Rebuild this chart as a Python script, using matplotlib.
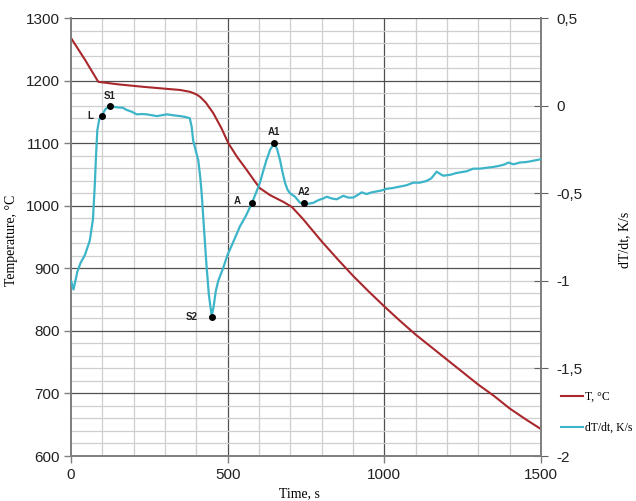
import numpy as np
import matplotlib
matplotlib.use("Agg")
import matplotlib.pyplot as plt
from matplotlib.lines import Line2D

# --- data ---
t_T = [0, 45, 87, 150, 231, 300, 348, 380, 400, 412, 430, 454, 480, 502, 530, 561, 585,
       603, 635, 678, 705, 740, 770, 800, 850, 900, 950, 1000, 1050, 1100, 1150, 1200, 1250,
       1300, 1350, 1400, 1450, 1500]
T_vals = [1268, 1233, 1198, 1194, 1190, 1187, 1185, 1182, 1178, 1174, 1165, 1148, 1124,
          1100, 1078, 1057, 1040, 1028, 1017, 1006, 998, 979, 961, 943, 915, 888, 863, 839,
          816, 794, 774, 754, 734, 714, 696, 676, 659, 643]

t_d = [0, 8, 20, 30, 45, 60, 70, 76, 80, 84, 90, 98, 110, 124, 146, 165, 178, 194, 210,
       226, 242, 258, 274, 290, 306, 325, 349, 365, 379, 385, 390, 400, 406, 412, 417, 424,
       432, 440, 449, 455, 462, 470, 485, 500, 515, 539, 558, 577, 590, 603, 614, 624, 636,
       649, 658, 667, 675, 683, 691, 699, 715, 731, 744, 758, 773, 789, 805, 816, 832, 848,
       869, 885, 901, 915, 928, 943, 960, 975, 990, 1007, 1028, 1050, 1070, 1092, 1113,
       1135, 1150, 1167, 1178, 1188, 1210, 1230, 1245, 1262, 1284, 1305, 1326, 1348, 1369,
       1385, 1396, 1412, 1433, 1454, 1475, 1500]
dTdt_vals = [-1.0, -1.05, -0.95, -0.9, -0.85, -0.77, -0.65, -0.45, -0.28, -0.14, -0.08,
             -0.058, -0.02, -0.002, -0.01, -0.012, -0.025, -0.035, -0.05, -0.048, -0.05,
             -0.055, -0.06, -0.055, -0.05, -0.055, -0.06, -0.065, -0.072, -0.12, -0.2, -0.27,
             -0.31, -0.4, -0.5, -0.69, -0.9, -1.08, -1.2, -1.15, -1.06, -1.0, -0.93, -0.85,
             -0.79, -0.69, -0.63, -0.558, -0.5, -0.44, -0.37, -0.31, -0.25, -0.215, -0.25,
             -0.31, -0.38, -0.44, -0.48, -0.5, -0.52, -0.555, -0.558, -0.56, -0.555, -0.54,
             -0.53, -0.52, -0.53, -0.535, -0.515, -0.525, -0.525, -0.51, -0.495, -0.505,
             -0.495, -0.49, -0.485, -0.475, -0.47, -0.462, -0.455, -0.44, -0.44, -0.43,
             -0.415, -0.377, -0.39, -0.4, -0.395, -0.385, -0.38, -0.375, -0.36, -0.36, -0.355,
             -0.35, -0.343, -0.335, -0.325, -0.335, -0.325, -0.322, -0.315, -0.306]

point_labels = ["L", "S1", "S2", "A", "A1", "A2"]
point_t = [98, 124, 449, 577, 649, 744]
point_v = [-0.058, -0.002, -1.205, -0.558, -0.215, -0.558]
label_offsets = [(-6, 0), (0, 7), (-10, 0), (-8, 2), (0, 8), (0, 8)]

x_ticks = [0, 500, 1000, 1500]
y_ticks = [600, 700, 800, 900, 1000, 1100, 1200, 1300]
y2_ticks = [-2, -1.5, -1, -0.5, 0, 0.5]
y2_labels = ["-2", "-1,5", "-1", "-0,5", "0", "0,5"]

red = "#A8282C"
cyan = "#3DB5C9"

fig = plt.figure(figsize=(6.36, 5.01), dpi=100)
ax = fig.add_axes([71/636, 1-456/501, (541-71)/636, (456-18)/501])
ax2 = ax.twinx()

# grid
ax.set_xlim(0, 1500)
ax.set_ylim(600, 1300)
for x in np.arange(100, 1500, 100):
    col = "#505050" if x % 500 == 0 else "#CFCFCF"
    ax.axvline(x, color=col, lw=0.9, zorder=0)
for y in np.arange(620, 1301, 20):
    col = "#505050" if y % 100 == 0 else "#CFCFCF"
    ax.axhline(y, color=col, lw=0.9, zorder=0)

ax.plot(t_T, T_vals, color=red, lw=1.5, zorder=3)

ax2.set_ylim(-2, 0.5)
ax2.plot(t_d, dTdt_vals, color=cyan, lw=1.6, zorder=3)
ax2.scatter(point_t, point_v, s=16, color="black", zorder=5)
for lab, tx, vy, off in zip(point_labels, point_t, point_v, label_offsets):
    ha = "right" if off[0] < 0 else "center"
    ax2.annotate(lab, (tx, vy), xytext=off, textcoords="offset points",
                 ha=ha, va="center", fontsize=7, fontweight="bold",
                 family="Liberation Sans", color="#222222")

# spines
for a in (ax, ax2):
    a.spines["top"].set_visible(False)
    for s in ("left", "bottom", "right"):
        a.spines[s].set_color("#808080")
        a.spines[s].set_linewidth(1.3)

ax.set_xticks(x_ticks)
ax.set_yticks(y_ticks)
ax.tick_params(axis="both", labelsize=11, color="#808080", length=5, width=1)
ax.tick_params(axis="y", pad=3)
for lab in ax.get_xticklabels() + ax.get_yticklabels():
    lab.set_family("Liberation Sans")
    lab.set_color("#222222")

ax2.set_yticks(y2_ticks)
ax2.set_yticklabels(y2_labels)
ax2.tick_params(axis="y", direction="inout", length=10, labelsize=11, color="#606060", pad=6)
for lab in ax2.get_yticklabels():
    lab.set_family("Liberation Sans")
    lab.set_color("#222222")

fig.text(12/636, 1-240/501, "Temperature, °C", rotation=90, ha="center", va="center",
         family="Liberation Serif", fontsize=10)
fig.text(299/636, 1-494/501, "Time, s", ha="center", va="center",
         family="Liberation Serif", fontsize=10)
fig.text(625/636, 1-240/501, "dT/dt, K/s", rotation=90, ha="center", va="center",
         family="Liberation Serif", fontsize=10)

handles = [Line2D([], [], color=red, lw=1.5), Line2D([], [], color=cyan, lw=1.5)]
leg = fig.legend(handles, ["T, °C", "dT/dt, K/s"], loc="center left",
                 bbox_to_anchor=(561/636, 1-412.5/501), frameon=False,
                 prop={"family": "Liberation Serif", "size": 8.5},
                 handlelength=1.9, handletextpad=0.1, labelspacing=1.6, borderpad=0,
                 borderaxespad=0)

fig.savefig("out.png", dpi=100)
